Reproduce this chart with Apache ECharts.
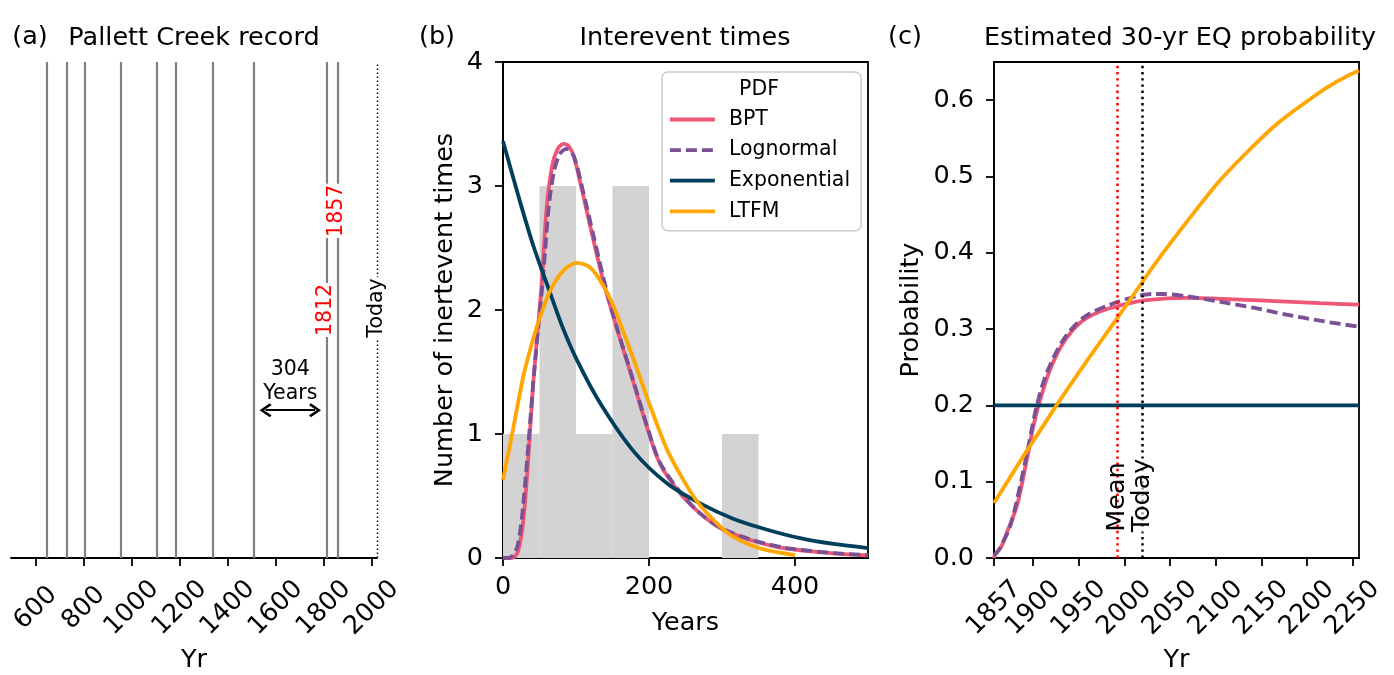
<!DOCTYPE html>
<html>
<head>
<meta charset="UTF-8">
<title>Pallett Creek record</title>
<style>
  html, body { margin: 0; padding: 0; background: #fff; }
  #main { width: 1394px; height: 675px; }
</style>
</head>
<body>
<div id="main"></div>
<script src="https://cdn.jsdelivr.net/npm/echarts@6/dist/echarts.min.js"></script>
<script>
// (a) paleo-earthquake years at Pallett Creek
const eventYears = [645, 728, 806, 956, 1102, 1181, 1339, 1508, 1812, 1857];
const todayYear = 2020;
const meanYear = 1991.7;
const yearTicksA = [600, 800, 1000, 1200, 1400, 1600, 1800, 2000];

// (b) histogram of intervals: [from, to, count]
const histBins = [[0, 50, 1], [50, 100, 3], [100, 150, 1], [150, 200, 3], [300, 350, 1]];
const yearsTicksB = [0, 200, 400];
const bptPdf = [[0, 0], [10, 0], [15, 0.005], [21, 0.06], [28, 0.31], [35, 0.84], [41, 1.38], [48.5, 1.9],
  [53.5, 2.24], [57, 2.6], [61, 2.9], [68, 3.18], [75, 3.3], [83, 3.34], [90, 3.32], [97, 3.24], [110, 2.92],
  [124, 2.56], [138, 2.22], [154, 1.89], [179, 1.41], [197, 1.06], [215, 0.76], [243, 0.52], [270, 0.36],
  [298, 0.24], [339, 0.145], [384, 0.08], [453, 0.038], [500, 0.02]];
const lognormalPdf = [[0, 0], [10, 0.005], [15, 0.03], [20, 0.1], [25, 0.28], [30, 0.58], [35, 0.93], [41, 1.38],
  [48, 1.84], [54, 2.2], [58, 2.5], [63, 2.85], [70, 3.12], [78, 3.26], [87, 3.3], [97, 3.24], [110, 2.95],
  [124, 2.6], [138, 2.25], [154, 1.9], [179, 1.42], [197, 1.07], [215, 0.77], [243, 0.53], [270, 0.36],
  [298, 0.245], [339, 0.15], [384, 0.085], [453, 0.04], [500, 0.024]];
const exponentialPdf = [[0, 3.36], [24, 2.86], [42, 2.51], [65, 2.13], [81, 1.87], [101, 1.6], [133, 1.25],
  [179, 0.86], [225, 0.6], [270, 0.44], [316, 0.315], [362, 0.228], [407, 0.16], [453, 0.113], [500, 0.08]];
const ltfmPdf = [[0, 0.63], [14.5, 1.06], [28, 1.47], [42, 1.78], [50, 1.93], [65, 2.16], [83, 2.32],
  [101, 2.38], [120, 2.34], [138, 2.19], [151.5, 2.03], [162, 1.87], [179, 1.6], [202, 1.22], [225, 0.87],
  [247, 0.63], [266, 0.455], [293, 0.28], [316, 0.17], [352, 0.078], [400, 0.024]];

// (c) 30-year probability versus year
const yearTicksC = [1857, 1900, 1950, 2000, 2050, 2100, 2150, 2200, 2250];
const probTicks = [0, 0.1, 0.2, 0.3, 0.4, 0.5, 0.6];
const bptProb = [[1857, 0], [1858, 0.004], [1865, 0.015], [1871, 0.033], [1882, 0.068], [1893, 0.129],
  [1900, 0.172], [1907.5, 0.207], [1918.5, 0.247], [1933, 0.282], [1951, 0.308], [1973, 0.323], [1998.6, 0.332],
  [2024, 0.338], [2068, 0.341], [2100, 0.34], [2141, 0.338], [2214, 0.334], [2257, 0.332]];
const lognormalProb = [[1857, 0.003], [1863, 0.012], [1874.5, 0.041], [1885.5, 0.094], [1894.6, 0.146],
  [1903.7, 0.199], [1914.6, 0.242], [1933, 0.286], [1955, 0.315], [1984, 0.332], [2013, 0.343], [2031, 0.346],
  [2042, 0.346], [2068, 0.343], [2104, 0.336], [2141, 0.328], [2177.5, 0.319], [2214, 0.311], [2257, 0.303]];
const exponentialProb = [[1857, 0.2], [2257, 0.2]];
const ltfmProb = [[1857, 0.072], [1925.5, 0.2], [1993, 0.316], [2064, 0.434], [2137, 0.535], [2210, 0.607],
  [2257, 0.639]];

const FONT = 'DejaVu Sans';
const FS = 25.5;
const LW = 3.8;
const C_BPT = '#ef5675', C_LOG = '#7a5195', C_EXP = '#003f5c', C_LTFM = '#ffa600';

const chart = echarts.init(document.getElementById('main'));

function axisBase(extra) {
  return Object.assign({
    type: 'value',
    splitLine: { show: false },
    axisLine: { onZero: false, lineStyle: { color: '#000', width: 1.8 } },
    axisTick: { length: 8, lineStyle: { color: '#000', width: 1.8 } },
    axisLabel: { color: '#000', fontSize: FS, fontFamily: FONT },
    nameLocation: 'middle',
    nameMoveOverlap: false,
    nameTextStyle: { color: '#000', fontSize: FS, fontFamily: FONT }
  }, extra);
}

const rotLabel = (vals) => ({
  customValues: vals, rotate: 45, align: 'center', verticalAlign: 'middle',
  margin: 50, color: '#000', fontSize: FS, fontFamily: FONT, formatter: (v) => String(v)
});
const tick = (vals) => ({ customValues: vals, length: 8, lineStyle: { color: '#000', width: 1.8 } });

function curve(name, data, color, xi, extra) {
  return Object.assign({
    name: name, type: 'line', xAxisIndex: xi, yAxisIndex: xi, data: data,
    symbol: 'none', showSymbol: false, smooth: 0.3, silent: true,
    lineStyle: { color: color, width: LW }, itemStyle: { color: color }
  }, extra || {});
}

function textSeries(xi, items, label) {
  return {
    type: 'scatter', xAxisIndex: xi, yAxisIndex: xi, silent: true, z: 10,
    symbolSize: 1, itemStyle: { color: 'rgba(0,0,0,0)', opacity: 1 },
    label: Object.assign({ show: true, position: 'inside', formatter: '{b}', fontFamily: FONT }, label),
    data: items
  };
}

const dashed = [11, 5];
const chevron = 'path://M5,0 L10,8 L8.6,9.4 L5,3.4 L1.4,9.4 L0,8 Z';

const option = {
  animation: false,
  textStyle: { fontFamily: FONT },
  grid: [
    { left: 11, top: 62, width: 366, height: 496, outerBoundsMode: 'none' },
    { left: 503, top: 62, width: 365, height: 496, outerBoundsMode: 'none',
      show: true, borderColor: '#000', borderWidth: 1.8 },
    { left: 994, top: 62, width: 365, height: 496, outerBoundsMode: 'none',
      show: true, borderColor: '#000', borderWidth: 1.8 }
  ],
  xAxis: [
    axisBase({ gridIndex: 0, min: 497, max: 2021, axisTick: tick(yearTicksA), axisLabel: rotLabel(yearTicksA),
      name: 'Yr', nameGap: 89 }),
    axisBase({ gridIndex: 1, min: 0, max: 500, axisTick: tick(yearsTicksB),
      axisLabel: { customValues: yearsTicksB, margin: 16, color: '#000', fontSize: FS, fontFamily: FONT },
      name: 'Years', nameGap: 52 }),
    axisBase({ gridIndex: 2, min: 1857, max: 2257, axisTick: tick(yearTicksC), axisLabel: rotLabel(yearTicksC),
      name: 'Yr', nameGap: 89 })
  ],
  yAxis: [
    { type: 'value', gridIndex: 0, min: 0, max: 1, show: false },
    axisBase({ gridIndex: 1, min: 0, max: 4, interval: 1,
      axisLabel: { margin: 20, color: '#000', fontSize: FS, fontFamily: FONT },
      name: 'Number of inertevent times', nameGap: 45 }),
    axisBase({ gridIndex: 2, min: 0, max: 0.65, axisTick: tick(probTicks),
      axisLabel: { customValues: probTicks, margin: 20, color: '#000', fontSize: FS, fontFamily: FONT,
        formatter: (v) => v.toFixed(1) },
      name: 'Probability', nameGap: 70 })
  ],
  legend: {
    data: ['BPT', 'Lognormal', 'Exponential', 'LTFM'],
    orient: 'vertical', left: 662, top: 72, selectedMode: false,
    itemWidth: 45, itemHeight: 14, itemGap: 9.6,
    padding: [37, 11, 9, 6],
    itemStyle: { opacity: 0 },
    lineStyle: { width: LW },
    backgroundColor: 'rgba(255,255,255,0.85)', borderColor: '#cccccc', borderWidth: 1.5, borderRadius: 6,
    textStyle: { color: '#000', fontSize: 20.5, fontFamily: FONT, padding: [0, 0, 0, 9] }
  },
  graphic: [
    { type: 'text', x: 30, y: 37, style: { text: '(a)', fontSize: FS, fontFamily: FONT, fill: '#000', align: 'center', verticalAlign: 'middle' } },
    { type: 'text', x: 194, y: 38, style: { text: 'Pallett Creek record', fontSize: FS, fontFamily: FONT, fill: '#000', align: 'center', verticalAlign: 'middle' } },
    { type: 'text', x: 437, y: 37, style: { text: '(b)', fontSize: FS, fontFamily: FONT, fill: '#000', align: 'center', verticalAlign: 'middle' } },
    { type: 'text', x: 685, y: 38, style: { text: 'Interevent times', fontSize: FS, fontFamily: FONT, fill: '#000', align: 'center', verticalAlign: 'middle' } },
    { type: 'text', x: 905, y: 37, style: { text: '(c)', fontSize: FS, fontFamily: FONT, fill: '#000', align: 'center', verticalAlign: 'middle' } },
    { type: 'text', x: 1180, y: 38, style: { text: 'Estimated 30-yr EQ probability', fontSize: FS, fontFamily: FONT, fill: '#000', align: 'center', verticalAlign: 'middle' } },
    { type: 'text', x: 759, y: 90, z: 200, style: { text: 'PDF', fontSize: 20.5, fontFamily: FONT, fill: '#000', align: 'center', verticalAlign: 'middle' } }
  ],
  series: [
    // (a) event lines and today
    {
      type: 'line', xAxisIndex: 0, yAxisIndex: 0, data: [], silent: true,
      markLine: {
        silent: true, symbol: ['none', 'none'], label: { show: false },
        lineStyle: { color: '#808080', width: 2.2, type: 'solid' },
        data: eventYears.map((y) => ({ xAxis: y })).concat([
          { xAxis: todayYear, lineStyle: { color: '#000', width: 1.4, type: [1.5, 2.5] } }
        ])
      }
    },
    // (a) double arrow
    {
      type: 'line', xAxisIndex: 0, yAxisIndex: 0, data: [], silent: true,
      markLine: {
        silent: true, symbol: [chevron, chevron], symbolSize: [14, 12], label: { show: false },
        lineStyle: { color: '#000', width: 2.2, type: 'solid' },
        data: [[{ coord: [1557, 0.298] }, { coord: [1763, 0.298] }]]
      }
    },
    textSeries(0, [
      { name: '1812', value: [1808, 0.5], label: { color: '#ff0000' } },
      { name: '1857', value: [1851, 0.7], label: { color: '#ff0000' } },
      { name: 'Today', value: [2018, 0.504], label: { color: '#000' } }
    ], { rotate: 90, fontSize: 20.5, backgroundColor: '#fff', padding: [0, 1] }),
    textSeries(0, [{ name: '304\nYears', value: [1660, 0.355] }],
      { fontSize: 20.5, lineHeight: 24, color: '#000', align: 'center' }),

    // (b) histogram
    {
      type: 'custom', xAxisIndex: 1, yAxisIndex: 1, silent: true, z: 1,
      data: histBins,
      encode: { x: [0, 1], y: 2 },
      renderItem: function (params, api) {
        const p0 = api.coord([api.value(0), api.value(2)]);
        const p1 = api.coord([api.value(1), 0]);
        return { type: 'rect', shape: { x: p0[0], y: p0[1], width: p1[0] - p0[0], height: p1[1] - p0[1] },
          style: { fill: '#d3d3d3' } };
      }
    },
    curve('BPT', bptPdf, C_BPT, 1),
    curve('Lognormal', lognormalPdf, C_LOG, 1, { lineStyle: { color: C_LOG, width: LW, type: dashed } }),
    curve('Exponential', exponentialPdf, C_EXP, 1),
    curve('LTFM', ltfmPdf, C_LTFM, 1),

    // (c) probabilities
    curve('BPT', bptProb, C_BPT, 2),
    curve('Lognormal', lognormalProb, C_LOG, 2, { lineStyle: { color: C_LOG, width: LW, type: dashed } }),
    curve('Exponential', exponentialProb, C_EXP, 2, { smooth: false }),
    curve('LTFM', ltfmProb, C_LTFM, 2, { smooth: 0.5 }),
    {
      type: 'line', xAxisIndex: 2, yAxisIndex: 2, data: [], silent: true,
      markLine: {
        silent: true, symbol: ['none', 'none'], label: { show: false },
        data: [
          { xAxis: meanYear, lineStyle: { color: '#ff0000', width: 2.5, type: [2.4, 3.8] } },
          { xAxis: todayYear, lineStyle: { color: '#000', width: 2.5, type: [2.4, 3.8] } }
        ]
      }
    },
    textSeries(2, [
      { name: 'Mean', value: [meanYear, 0.08] },
      { name: 'Today', value: [todayYear, 0.082], label: { backgroundColor: 'rgba(255,255,255,0.6)' } }
    ], { rotate: 90, fontSize: FS, color: '#000' })
  ]
};

chart.setOption(option);
</script>
</body>
</html>
